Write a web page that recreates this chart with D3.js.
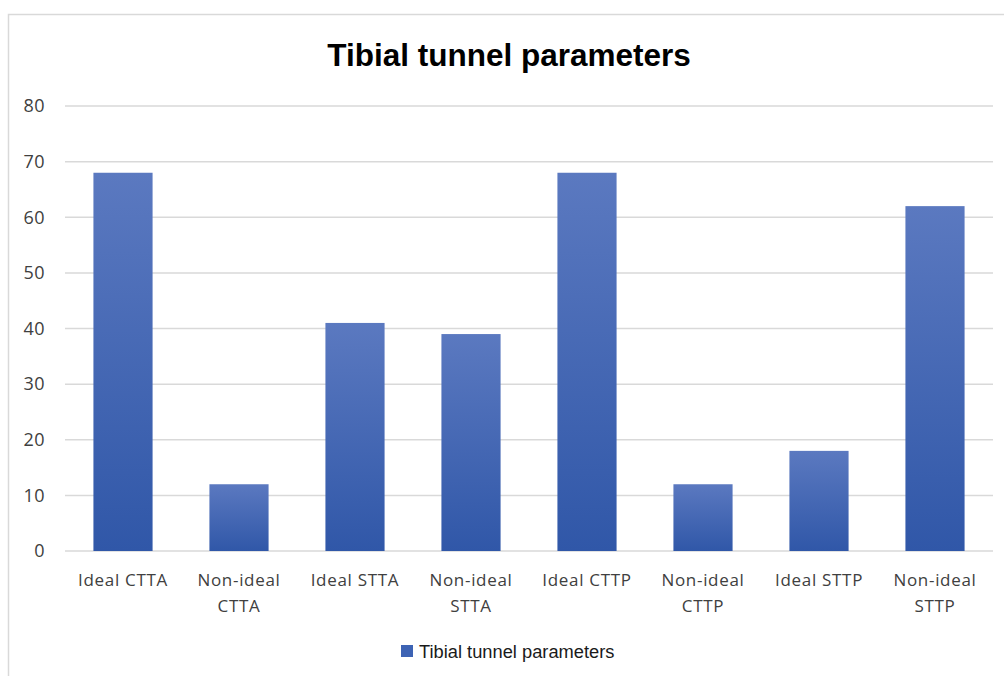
<!DOCTYPE html>
<html><head><meta charset="utf-8">
<script src="https://cdn.jsdelivr.net/npm/d3@7"></script>
<style>html,body{margin:0;padding:0;background:#fff;overflow:hidden}</style>
</head><body>
<svg id="chart" width="1004" height="676"></svg>
<script>
const categories = [["Ideal CTTA"],["Non-ideal","CTTA"],["Ideal STTA"],["Non-ideal","STTA"],["Ideal CTTP"],["Non-ideal","CTTP"],["Ideal STTP"],["Non-ideal","STTP"]];
const values = [68, 12, 41, 39, 68, 12, 18, 62];
const yTicks = [0, 10, 20, 30, 40, 50, 60, 70, 80];
const seriesName = "Tibial tunnel parameters";
const title = "Tibial tunnel parameters";

const svg = d3.select("#chart");
// outer border
svg.append("rect").attr("x", 8.5).attr("y", 14.5).attr("width", 1010).attr("height", 700)
  .attr("fill", "#fff").attr("stroke", "#d9d9d9").attr("stroke-width", 1.5);

const defs = svg.append("defs");
const grad = defs.append("linearGradient").attr("id", "barGrad").attr("x1", 0).attr("y1", 0).attr("x2", 0).attr("y2", 1);
grad.append("stop").attr("offset", "0%").attr("stop-color", "#5b79c0");
grad.append("stop").attr("offset", "100%").attr("stop-color", "#3057a8");

const pLeft = 65, pRight = 993, pTop = 106, pBottom = 551;
const keys = categories.map(c => c.join(" "));
const x = d3.scaleBand().domain(keys).range([pLeft, pRight]).paddingInner(0.49).paddingOuter(0.245);
const y = d3.scaleLinear().domain([0, 80]).range([pBottom, pTop]);

// gridlines
svg.append("g").selectAll("line").data(yTicks).join("line")
  .attr("x1", pLeft).attr("x2", pRight)
  .attr("y1", d => y(d)).attr("y2", d => y(d))
  .attr("stroke", "#d9d9d9").attr("stroke-width", 1.5);

// y axis labels
const yAxis = d3.axisLeft(y).tickValues(yTicks).tickSize(0).tickPadding(0);
const yg = svg.append("g").attr("transform", `translate(45,0)`).call(yAxis);
yg.select(".domain").remove();
yg.selectAll("text").attr("font-family", "'Open Sans', sans-serif").attr("font-size", 18)
  .attr("letter-spacing", 0.5).attr("fill", "#404040");

// bars
svg.append("g").selectAll("rect").data(values).join("rect")
  .attr("x", (d, i) => x(keys[i]))
  .attr("width", x.bandwidth())
  .attr("y", d => y(d))
  .attr("height", d => y(0) - y(d))
  .attr("fill", "url(#barGrad)");

// x labels
const xAxis = d3.axisBottom(x).tickSize(0).tickFormat(() => "");
const xg = svg.append("g").attr("transform", `translate(0,${pBottom})`).call(xAxis);
xg.select(".domain").remove();
xg.selectAll(".tick").each(function(d, i) {
  const t = d3.select(this).append("text")
    .attr("text-anchor", "middle")
    .attr("font-family", "'Open Sans', sans-serif").attr("font-size", 17)
    .attr("letter-spacing", 0.7)
    .attr("fill", "#404040");
  categories[i].forEach((line, j) => {
    t.append("tspan").attr("x", 0).attr("y", 35 + j * 26).text(line);
  });
});

// title
svg.append("text").attr("x", 509).attr("y", 66).attr("text-anchor", "middle")
  .attr("font-family", "'Liberation Sans', Arial, sans-serif").attr("font-weight", "bold")
  .attr("font-size", 31.5).attr("fill", "#000").text(title);

// legend
const lg = svg.append("g").attr("transform", "translate(401,645)");
lg.append("rect").attr("width", 12).attr("height", 12).attr("fill", "#3d63b4");
lg.append("text").attr("x", 18).attr("y", 12.5).attr("font-family", "'Liberation Sans', Arial, sans-serif")
  .attr("font-size", 18.3).attr("fill", "#1a1a1a").text(seriesName);
</script>
</body></html>
